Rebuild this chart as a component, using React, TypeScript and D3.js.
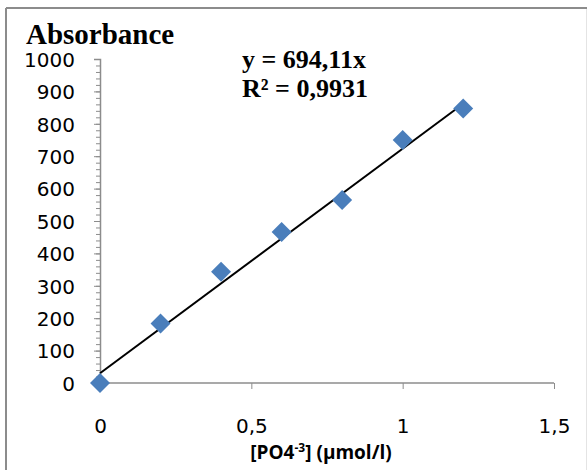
import React, { useRef, useEffect } from 'react';
import { select, scaleLinear, axisBottom, axisLeft, line, symbol, symbolSquare, range } from 'd3';

// data
const concentrations = [0, 0.2, 0.4, 0.6, 0.8, 1.0, 1.2];
const absorbances = [0, 184, 343, 466, 565, 750, 847];
const trendX = [0, 1.2];
const trendY = [30, 862];
const xTicks = [0, 0.5, 1, 1.5];
const yTicks = [0, 100, 200, 300, 400, 500, 600, 700, 800, 900, 1000];
const equationLines = ['y = 694,11x', 'R² = 0,9931'];

const width = 587;
const height = 470;
const margin = { top: 59, right: 33, bottom: 87, left: 100 };

const App = () => {
  const svgRef = useRef(null);

  useEffect(() => {
    const innerW = width - margin.left - margin.right;
    const innerH = height - margin.top - margin.bottom;

    const xScale = scaleLinear().domain([0, 1.5]).range([0, innerW]);
    const yScale = scaleLinear().domain([0, 1000]).range([innerH, 0]);

    const svgEl = select(svgRef.current);
    svgEl.selectAll('*').remove();

    // chart frame
    svgEl.append('line')
      .attr('x1', 6).attr('y1', 8).attr('x2', 587).attr('y2', 8)
      .attr('stroke', '#8c8c8c').attr('stroke-width', 2);
    svgEl.append('line')
      .attr('x1', 6).attr('y1', 8).attr('x2', 6).attr('y2', 470)
      .attr('stroke', '#8c8c8c').attr('stroke-width', 2);
    svgEl.append('line')
      .attr('x1', 586.5).attr('y1', 9).attr('x2', 586.5).attr('y2', 470)
      .attr('stroke', '#e4e4e4').attr('stroke-width', 1);

    const svg = svgEl.append('g').attr('transform', `translate(${margin.left}, ${margin.top})`);

    // minor y ticks every 20
    const minorAxis = axisLeft(yScale)
      .tickValues(range(0, 1001, 20))
      .tickSize(4)
      .tickFormat(() => '');
    const minorGroup = svg.append('g').call(minorAxis);
    minorGroup.select('.domain').remove();
    minorGroup.selectAll('line').attr('stroke', '#8c8c8c');

    // y axis
    const yAxis = axisLeft(yScale)
      .tickValues(yTicks)
      .tickSize(6)
      .tickPadding(19)
      .tickFormat(d => `${d}`);
    const yAxisGroup = svg.append('g').call(yAxis);
    yAxisGroup.select('.domain').attr('stroke', '#8c8c8c').attr('stroke-width', 1.5);
    yAxisGroup.selectAll('line').attr('stroke', '#8c8c8c');
    yAxisGroup.selectAll('text')
      .attr('fill', '#000')
      .attr('font-family', 'DejaVu Sans')
      .attr('font-size', '20px')
      .attr('dy', '0.36em');

    // x axis
    const xAxis = axisBottom(xScale)
      .tickValues(xTicks)
      .tickSize(6)
      .tickPadding(30)
      .tickFormat(d => `${d}`.replace('.', ','));
    const xAxisGroup = svg.append('g')
      .attr('transform', `translate(0, ${innerH})`)
      .call(xAxis);
    xAxisGroup.select('.domain').attr('stroke', '#8c8c8c').attr('stroke-width', 1.5)
      .attr('d', `M0,0H${innerW}`);
    xAxisGroup.selectAll('line').attr('stroke', '#8c8c8c');
    xAxisGroup.selectAll('text')
      .attr('fill', '#000')
      .attr('font-family', 'DejaVu Sans')
      .attr('font-size', '20px');

    // trend line
    const trendLine = line()
      .x(d => xScale(d[0]))
      .y(d => yScale(d[1]));
    svg.append('path')
      .attr('fill', 'none')
      .attr('stroke', '#000')
      .attr('stroke-width', 2)
      .attr('d', trendLine(trendX.map((x, i) => [x, trendY[i]])));

    // data points (square rotated into a diamond)
    svg.selectAll('.point')
      .data(concentrations)
      .enter()
      .append('path')
      .attr('class', 'point')
      .attr('transform', (d, i) => `translate(${xScale(d)}, ${yScale(absorbances[i])}) rotate(45)`)
      .attr('d', symbol().type(symbolSquare).size(200)())
      .attr('fill', '#4a7ebb');

    // titles
    svgEl.append('text')
      .attr('x', 26).attr('y', 44)
      .attr('font-family', 'Liberation Serif')
      .attr('font-weight', 'bold')
      .attr('font-size', '29px')
      .text('Absorbance');

    svgEl.selectAll('.eq')
      .data(equationLines)
      .enter()
      .append('text')
      .attr('class', 'eq')
      .attr('x', 242)
      .attr('y', (d, i) => 68 + i * 29)
      .attr('font-family', 'Liberation Serif')
      .attr('font-weight', 'bold')
      .attr('font-size', '26px')
      .text(d => d);

    const xLabel = svgEl.append('text')
      .attr('x', 321).attr('y', 459)
      .attr('text-anchor', 'middle')
      .attr('font-family', 'Open Sans')
      .attr('font-weight', 'bold')
      .attr('font-size', '19px');
    xLabel.append('tspan').text('[PO4');
    xLabel.append('tspan').attr('dy', -7).attr('font-size', '12px').text('-3');
    xLabel.append('tspan').attr('dy', 7).text('] (µmol/l)');
  }, []);

  return (
    <svg
      ref={svgRef}
      width={width}
      height={height}
      style={{ position: 'absolute', left: 0, top: 0, background: '#fff' }}
    ></svg>
  );
};

export default App;
